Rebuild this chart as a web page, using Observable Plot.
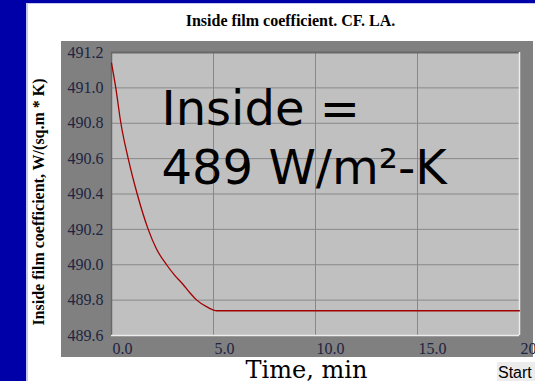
<!DOCTYPE html>
<html><head><meta charset="utf-8">
<script src="https://cdn.jsdelivr.net/npm/d3@7"></script>
<script src="https://cdn.jsdelivr.net/npm/@observablehq/plot@0.6"></script>
<style>
html,body{margin:0;padding:0;overflow:hidden;background:#fff;width:535px;height:381px;}
#wrap{position:relative;width:535px;height:381px;overflow:hidden;}
.blueL{position:absolute;left:0;top:0;width:26px;height:381px;background:#0000a8;}
.lineL{position:absolute;left:26px;top:3px;width:2px;height:378px;background:#c8c8ee;}
.blueT{position:absolute;left:0;top:0;width:535px;height:3px;background:#0000a8;}
.lineT{position:absolute;left:26px;top:3px;width:509px;height:1px;background:#c8c8ee;}
.panel{position:absolute;left:61px;top:41px;width:472px;height:316px;background:#808080;}
.start{position:absolute;left:497px;top:362px;width:45px;height:22px;background:#ececec;font:16px "Liberation Sans",Arial,sans-serif;color:#000;padding-left:1px;line-height:21px;white-space:nowrap;}
#chart{position:absolute;left:0;top:0;}
</style>
</head><body>
<div id="wrap">
<div class="blueL"></div><div class="blueT"></div><div class="lineL"></div><div class="lineT"></div>
<div class="panel"></div>
<div id="chart"></div>
<div class="start">Start</div>
</div>
<script>
const title = "Inside film coefficient. CF. LA.";
const yLabel = "Inside film coefficient, W/(sq.m * K)";
const xLabel = "Time, min";
const annotation = "Inside =\n489 W/m²-K";
const times  = [0, 0.21, 0.46, 0.82, 1.26, 1.8, 2.2, 2.7, 3.1, 3.5, 3.85, 4.18, 4.7, 5.17, 20];
const values = [491.14, 491.0, 490.8, 490.6, 490.4, 490.2, 490.09, 490.0, 489.94, 489.89, 489.84, 489.8, 489.76, 489.74, 489.74];
const xTicks = [0, 5, 10, 15, 20];
const yTicks = [489.6, 489.8, 490.0, 490.2, 490.4, 490.6, 490.8, 491.0, 491.2];
const xDomain = [0, 20];
const yDomain = [489.6, 491.2];

const data = times.map((t, i) => ({t, v: values[i]}));
const serif = "'Liberation Serif', 'Times New Roman', serif";
const tickColor = "#1e2440";

const chart = Plot.plot({
  width: 535, height: 381,
  marginLeft: 111, marginRight: 16, marginTop: 52, marginBottom: 46,
  style: {background: "transparent", overflow: "visible"},
  x: {domain: xDomain},
  y: {domain: yDomain},
  marks: [
    Plot.frame({fill: "#c0c0c0", stroke: null}),
    Plot.gridX(xTicks, {stroke: "#888888", strokeOpacity: 1, strokeWidth: 1}),
    Plot.gridY(yTicks, {stroke: "#888888", strokeOpacity: 1, strokeWidth: 1}),
    Plot.ruleY([yDomain[1]], {stroke: "#686868", strokeWidth: 2}),
    Plot.ruleX([xDomain[0]], {stroke: "#686868", strokeWidth: 1.5}),
    Plot.ruleY([yDomain[0]], {stroke: "#ececec", strokeWidth: 1.5}),
    Plot.ruleX([xDomain[1]], {stroke: "#ececec", strokeWidth: 1.5}),
    Plot.line(data, {x: "t", y: "v", stroke: "#a00000", strokeWidth: 1.3, curve: "monotone-x"}),
    Plot.axisX(xTicks, {tickSize: 0, tickPadding: 7, tickFormat: d3.format(".1f"), textAnchor: "start", dx: 1,
      fontSize: 16, fontFamily: serif, fill: tickColor, label: null}),
    Plot.axisY(yTicks, {tickSize: 0, tickPadding: 8, tickFormat: d3.format(".1f"),
      fontSize: 16, fontFamily: serif, fill: tickColor, label: null}),
    Plot.text([title], {frameAnchor: "top", dx: -25, dy: -38, fontSize: 16, fontWeight: "bold", fontFamily: serif, fill: "#000"}),
    Plot.text([yLabel], {frameAnchor: "left", textAnchor: "middle", rotate: -90, dx: -73, dy: 8, fontSize: 16, fontWeight: "bold", fontFamily: serif, fill: "#000"}),
    Plot.text([xLabel], {frameAnchor: "bottom", dx: -9, dy: 42, fontSize: 24, fontFamily: "'DejaVu Serif', serif", fill: "#000"}),
    Plot.text([annotation], {frameAnchor: "top-left", textAnchor: "start", lineAnchor: "top", dx: 50, dy: 31,
      lineHeight: 1.23, fontSize: 48, fontFamily: "'DejaVu Sans', Verdana, sans-serif", fill: "#000"})
  ]
});
document.getElementById("chart").appendChild(chart);
</script>
</body></html>
